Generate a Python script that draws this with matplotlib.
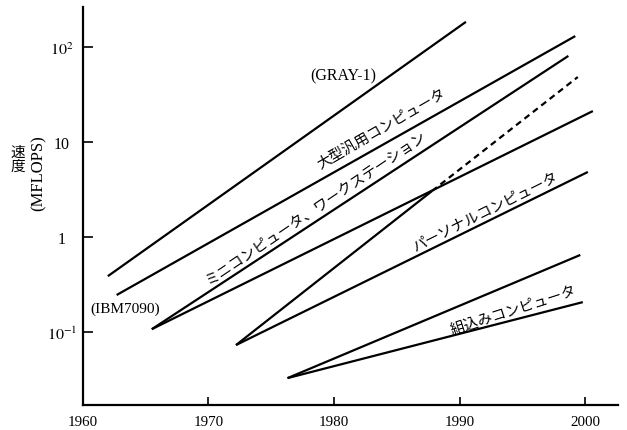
import matplotlib
matplotlib.use("Agg")
import matplotlib.pyplot as plt

plt.rcParams["font.family"] = ["Liberation Serif", "Noto Sans CJK JP"]
plt.rcParams["mathtext.fontset"] = "stix"

# Performance trends (MFLOPS) by computer class
years_super = [1962.0, 1990.5]
mflops_super = [0.39, 185]

years_mainframe = [1962.7, 1999.2]
mflops_mainframe = [0.247, 131]

years_mini = [1965.5, 1998.65]
mflops_mini = [0.108, 81]

years_workstation = [1965.5, 2000.6]
mflops_workstation = [0.108, 21.3]

years_micro = [1972.2, 1987.8]
mflops_micro = [0.0735, 3.07]
years_micro_proj = [1987.8, 1999.4]
mflops_micro_proj = [3.07, 48.6]

years_pc = [1972.2, 2000.2]
mflops_pc = [0.0735, 4.87]

years_embed_hi = [1976.3, 1999.6]
mflops_embed_hi = [0.033, 0.652]
years_embed_lo = [1976.3, 1999.8]
mflops_embed_lo = [0.033, 0.208]

xticks = [1960, 1970, 1980, 1990, 2000]
yticks = [0.1, 1, 10, 100]
ytick_labels = [r"$10^{-1}$", "1", "10", r"$10^{2}$"]

W, H = 627, 431
fig = plt.figure(figsize=(W / 100, H / 100), dpi=100)
ax = fig.add_axes([82.7 / W, 1 - 406 / H, (618 - 82.7) / W, (406 - 8) / H])

lw = 1.6
kw = dict(color="black", lw=lw, solid_capstyle="butt")
ax.plot(years_super, mflops_super, **kw)
ax.plot(years_mainframe, mflops_mainframe, **kw)
ax.plot(years_mini, mflops_mini, **kw)
ax.plot(years_workstation, mflops_workstation, **kw)
ax.plot(years_micro, mflops_micro, **kw)
ax.plot(years_micro_proj, mflops_micro_proj, color="black", lw=lw,
        linestyle=(0, (2.8, 2.0)))
ax.plot(years_pc, mflops_pc, **kw)
ax.plot(years_embed_hi, mflops_embed_hi, **kw)
ax.plot(years_embed_lo, mflops_embed_lo, **kw)

ax.set_yscale("log")
ax.set_xlim(1960, 2002.6)
ax.set_ylim(0.0172, 265)
ax.minorticks_off()

ax.set_xticks(xticks)
ax.set_xticklabels([str(x) for x in xticks], fontsize=10.8)
ax.set_yticks(yticks)
ax.set_yticklabels(ytick_labels, fontsize=11.5, ha="center")
ax.tick_params(axis="x", direction="in", length=6, width=1.2, pad=7)
ax.tick_params(axis="y", direction="in", length=7, width=1.2, pad=15)

for s in ("top", "right"):
    ax.spines[s].set_visible(False)
for s in ("left", "bottom"):
    ax.spines[s].set_linewidth(1.6)

jp = ["Noto Sans CJK JP", "DejaVu Sans"]
ax.text(1980.7, 50, "(GRAY-1)", fontsize=11.5, ha="center", va="center")
ax.text(1963.4, 0.18, "(IBM7090)", fontsize=11, ha="center", va="center")
ax.text(1983.84, 13.8, "大型汎用コンピュータ", family=jp, fontsize=10.5,
        rotation=30, rotation_mode="anchor", ha="center", va="center")
ax.text(1978.6, 2.08, "ミニコンピュータ、ワークステーション", family=jp,
        fontsize=10.5, rotation=34, rotation_mode="anchor",
        ha="center", va="center")
ax.text(1992.04, 1.89, "パーソナルコンピュータ", family=jp, fontsize=10.5,
        rotation=26.5, rotation_mode="anchor", ha="center", va="center")
ax.text(1994.27, 0.172, "組込みコンピュータ", family=jp, fontsize=10.5,
        rotation=18, rotation_mode="anchor", ha="center", va="center")

fig.text(18 / W, 1 - 160 / H, "速\n度", family=jp, fontsize=10.5,
         ha="center", va="center", linespacing=1.0)
fig.text(39 / W, 1 - 173 / H, "(MFLOPS)", fontsize=12, rotation=90,
         ha="center", va="center")

fig.savefig("out.png", dpi=100)
